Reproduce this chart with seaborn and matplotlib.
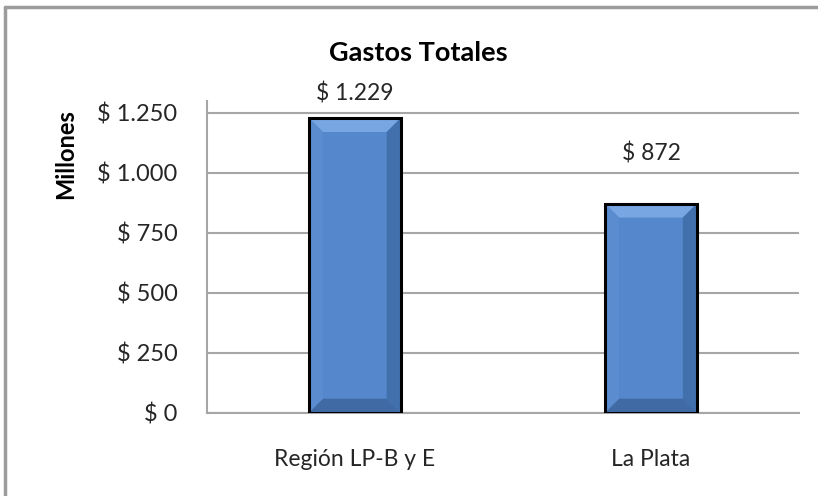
import seaborn as sns
import matplotlib.pyplot as plt
import pandas as pd
from matplotlib.lines import Line2D
from matplotlib.patches import Polygon

CATEGORIES = ["Región LP-B y E", "La Plata"]
VALUES = [1229, 872]
VALUE_LABELS = ["$ 1.229", "$ 872"]
Y_TICKS = [0, 250, 500, 750, 1000, 1250]
Y_TICK_LABELS = ["$ 0", "$ 250", "$ 500", "$ 750", "$ 1.000", "$ 1.250"]
TITLE = "Gastos Totales"
Y_LABEL = "Millones"

BODY = "#5587CC"
TOP = "#78A6E2"
RIGHT = "#4170AC"
BOTTOM = "#3F6AA3"
LEFT = "#5B8CD0"
TEXT = "#262626"
GRID = "#A6A6A6"


def bevel(ax, bar, px=14):
    # bevel size in pixels -> data units
    inv = ax.transData.inverted()
    x0, y0 = bar.get_x(), bar.get_y()
    x1, y1 = x0 + bar.get_width(), y0 + bar.get_height()
    p0 = ax.transData.transform((x0, y0))
    p1 = ax.transData.transform((x1, y1))
    ix0, iy0 = inv.transform((p0[0] + px, p0[1] + px))
    ix1, iy1 = inv.transform((p1[0] - px, p1[1] - px))
    faces = [
        ([(x0, y1), (x1, y1), (ix1, iy1), (ix0, iy1)], TOP),
        ([(x1, y1), (x1, y0), (ix1, iy0), (ix1, iy1)], RIGHT),
        ([(x0, y0), (x1, y0), (ix1, iy0), (ix0, iy0)], BOTTOM),
        ([(x0, y0), (x0, y1), (ix0, iy1), (ix0, iy0)], LEFT),
    ]
    for pts, c in faces:
        ax.add_patch(Polygon(pts, closed=True, facecolor=c, edgecolor="none", zorder=3))
    ax.add_patch(Polygon([(x0, y0), (x1, y0), (x1, y1), (x0, y1)], closed=True,
                         facecolor="none", edgecolor="black", linewidth=2.2, zorder=4))


def plot():
    sns.set_style("white")
    plt.rcParams["font.family"] = ["Lato", "DejaVu Sans"]

    df = pd.DataFrame({"cat": CATEGORIES, "val": VALUES})
    fig = plt.figure(figsize=(8.18, 4.96), dpi=100)
    ax = fig.add_axes([0.2527, 0.168, 0.7241, 0.6284])

    sns.barplot(data=df, x="cat", y="val", color=BODY, width=0.31,
                saturation=1, linewidth=0, ax=ax, zorder=2)

    ax.set_xlim(-0.5, 1.5)
    ax.set_ylim(0, 1300)
    ax.set_yticks(Y_TICKS)
    ax.set_yticklabels(Y_TICK_LABELS, fontsize=17, color=TEXT)
    ax.set_xticks(range(len(CATEGORIES)))
    ax.set_xticklabels(CATEGORIES, fontsize=16.5, color=TEXT)
    ax.set_xticks([-0.5, 0.5, 1.5], minor=True)
    ax.tick_params(axis="x", which="major", length=0, pad=26)
    ax.tick_params(axis="x", which="minor", length=7, width=1.5, color=GRID, direction="out")
    ax.tick_params(axis="y", length=7, width=1.5, color=GRID, direction="out", pad=14)
    ax.set_xlabel("")
    ax.set_ylabel(Y_LABEL, fontsize=17, fontweight="bold", color="black")
    ax.yaxis.set_label_coords(-0.218, 0.83)

    ax.grid(axis="y", color=GRID, linewidth=1.5, zorder=0)
    ax.set_axisbelow(True)
    for s in ["top", "right"]:
        ax.spines[s].set_visible(False)
    for s in ["left", "bottom"]:
        ax.spines[s].set_color(GRID)
        ax.spines[s].set_linewidth(1.5)

    fig.canvas.draw()
    offsets = [18, 36]
    for bar, lab, off in zip(ax.patches, VALUE_LABELS, offsets):
        bevel(ax, bar)
        ax.annotate(lab, (bar.get_x() + bar.get_width() / 2, bar.get_height()),
                    xytext=(0, off), textcoords="offset points",
                    ha="center", va="center", fontsize=16.5, color=TEXT)

    fig.text(0.511, 0.893, TITLE, ha="center", va="center", fontsize=19.5,
             fontweight="bold", color="black")

    # chart border (top and left edges visible)
    fig.add_artist(Line2D([5 / 818, 1.0], [1 - 7 / 496] * 2, transform=fig.transFigure,
                          color="#9C9C9C", linewidth=2.5))
    fig.add_artist(Line2D([5 / 818] * 2, [0.0, 1 - 7 / 496], transform=fig.transFigure,
                          color="#9C9C9C", linewidth=2.5))

    fig.savefig("out.png", dpi=100)


if __name__ == "__main__":
    plot()
